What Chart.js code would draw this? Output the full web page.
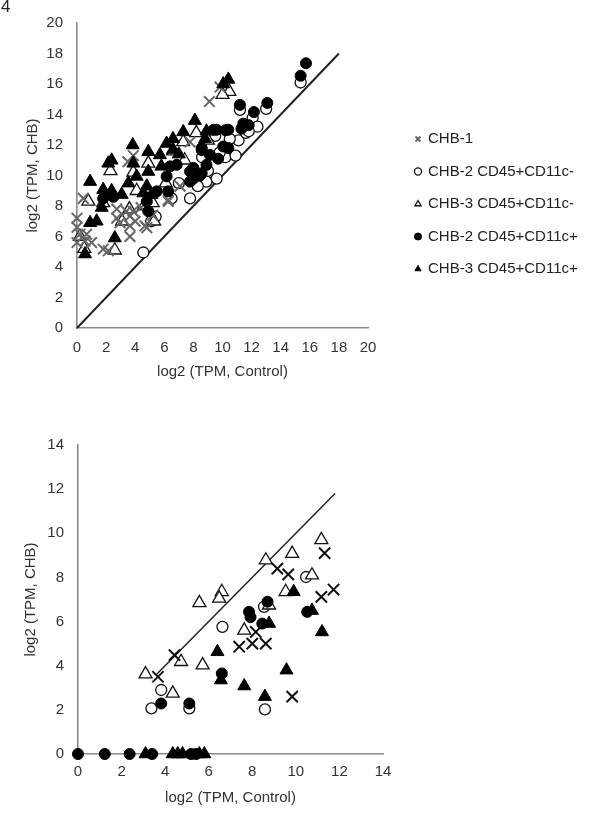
<!DOCTYPE html>
<html>
<head>
<meta charset="utf-8">
<script src="https://cdn.jsdelivr.net/npm/chart.js@4"></script>
<style>
body { margin: 0; background: #fff; font-family: "Liberation Sans", Arial, sans-serif; }
#wrap { position: relative; width: 600px; height: 827px; overflow: hidden; }
#topChart { position: absolute; left: 0; top: 0; }
#bottomChart { position: absolute; left: 0; top: 388px; }
#panel { position: absolute; left: 1px; top: -3px; font-size: 17px; color: #222; }
</style>
</head>
<body>
<div id="wrap">
  <canvas id="topChart" width="600" height="388"></canvas>
  <canvas id="bottomChart" width="600" height="439"></canvas>
  <div id="panel">4</div>
</div>
<script>
// series names (legend)
var seriesNames = ["CHB-1", "CHB-2 CD45+CD11c-", "CHB-3 CD45+CD11c-", "CHB-2 CD45+CD11c+", "CHB-3 CD45+CD11c+"];

// top panel: [log2 TPM control, log2 TPM CHB]
var topChb1 = [[0,7.2],[0,6.6],[0.2,6.15],[0.55,5.7],[0,5.6],[0.66,6.15],[1.0,5.6],[1.8,5.17],[2.15,5.06],
  [3.64,6.0],[2.96,6.9],[3.64,6.7],[4.0,7.0],[4.8,6.58],[2.73,7.8],[3.4,7.66],[3.64,7.34],[4.67,6.7],
  [2.73,7.2],[3.85,7.66],[6.27,8.3],[6.27,8.4],[7.08,9.3],[3.5,10.9],[3.87,11.3],[0.43,8.5],[7.77,12.2],
  [9.1,14.85],[9.83,15.8],[5.2,7.4],[4.4,7.9]];
var topChb2Neg = [[15.37,16.1],[13.0,14.37],[12.07,13.77],[11.2,14.3],[11.1,12.3],[10.2,11.2],[7.77,8.5],
  [8.9,9.6],[9.6,9.8],[4.56,4.95],[9.5,12.6],[10.5,12.4],[11.6,12.8],[12.4,13.2],[9.0,10.3],[8.3,9.3],
  [6.5,8.5],[5.4,7.3],[5.1,7.0],[10.9,11.3],[9.8,11.5],[7.0,9.5],[11.8,12.9],[8.6,11.2]];
var topChb3Neg = [[10.47,15.5],[10.0,15.3],[8.2,12.8],[7.3,12.2],[6.6,11.6],[4.9,10.8],[3.87,10.2],
  [2.3,10.3],[0.78,8.3],[1.8,8.2],[2.6,5.1],[4.6,8.0],[5.2,8.2],[3.1,7.0],[3.6,7.8],[5.3,7.0],[0.5,5.2],
  [0.2,6.0],[6.1,9.5],[7.4,11.0],[9.0,12.3],[4.1,9.0]];
var topChb2Pos = [[15.74,17.36],[15.37,16.54],[13.08,14.76],[12.16,14.16],[11.2,14.63],[9.6,13.0],[10.2,12.97],
  [10.4,13.0],[11.43,13.4],[11.3,13.07],[11.8,13.3],[10.05,11.9],[10.4,11.8],[9.7,11.1],[8.57,11.8],[8.0,10.5],
  [7.77,9.6],[8.45,10.0],[9.4,13.0],[6.4,10.6],[6.85,10.7],[6.16,9.94],[5.48,8.96],[6.27,8.96],[4.8,8.3],
  [4.9,7.66],[7.77,10.26],[8.0,9.8],[8.57,10.15],[8.9,10.7],[8.57,11.67],[9.14,11.35],[1.8,8.5],[2.5,8.6]];
var topChb3Pos = [[10.4,16.3],[10.05,16.0],[8.1,13.6],[8.8,12.4],[7.3,12.86],[6.6,12.4],[6.16,12.1],
  [4.9,11.56],[3.83,12.0],[2.38,11.0],[2.15,10.8],[0.9,9.6],[3.87,10.8],[4.9,10.26],[4.1,9.94],[3.53,9.5],
  [1.8,9.07],[2.38,9.0],[3.07,8.75],[4.8,9.3],[4.56,8.85],[5.13,8.75],[5.7,11.35],[5.8,10.6],[6.6,11.7],
  [1.7,7.9],[0.9,6.9],[1.35,7.0],[2.6,5.9],[0.55,4.85],[8.9,12.9],[7.0,11.4]];

// bottom panel
var botChb1 = [[11.32,9.1],[9.15,8.4],[9.65,8.14],[11.17,7.12],[11.73,7.45],[8.16,5.53],[7.4,4.86],
  [8.0,5.0],[8.62,5.0],[4.43,4.48],[3.67,3.5],[9.83,2.6]];
var botChb2Neg = [[10.47,8.02],[8.54,6.67],[6.63,5.76],[3.82,2.9],[3.37,2.07],[5.11,2.07],[8.58,2.02]];
var botChb3Neg = [[11.17,9.7],[9.83,9.08],[8.62,8.78],[10.74,8.1],[9.53,7.35],[5.57,6.85],[6.6,7.35],
  [6.48,7.05],[8.77,6.74],[7.63,5.6],[5.72,4.03],[4.73,4.18],[3.1,3.62],[4.35,2.75]];
var botChb2Pos = [[10.52,6.44],[7.85,6.44],[7.92,6.2],[8.7,6.9],[8.46,5.91],[3.82,2.29],[5.11,2.29],[6.6,3.65],
  [0,0],[1.23,0],[2.37,0],[3.4,0],[5.19,0],[5.42,0]];
var botChb3Pos = [[9.9,7.35],[10.74,6.5],[8.77,5.91],[6.4,4.63],[6.56,3.35],[7.63,3.08],[8.58,2.6],
  [9.57,3.8],[11.2,5.53],[3.1,0],[4.35,0],[4.58,0],[4.8,0],[5.57,0],[5.8,0]];

// identity lines
var topLine = [[0,0],[18,18]];
var botLine = [[3.6,3.6],[11.8,11.8]];

var topTicksMax = 20, botTicksMax = 14;

function pts(a) { return a.map(function(p){ return {x: p[0], y: p[1]}; }); }

function makeSets(lists, xColor, sz) {
  var styles = [
    {pointStyle: 'crossRot', bg: xColor, bc: xColor, bw: 2, r: sz.x, order: 2},
    {pointStyle: 'circle', bg: '#fff', bc: '#111', bw: 1.3, r: sz.c, order: 4},
    {pointStyle: 'triangle', bg: '#fff', bc: '#111', bw: 1.3, r: sz.t, order: 3},
    {pointStyle: 'circle', bg: '#000', bc: '#000', bw: 1, r: sz.c, order: 1},
    {pointStyle: 'triangle', bg: '#000', bc: '#000', bw: 1, r: sz.t, order: 0}
  ];
  var sets = [];
  for (var i = 0; i < 5; i++) {
    var s = styles[i];
    sets.push({
      label: seriesNames[i], data: pts(lists[i]), pointStyle: s.pointStyle,
      backgroundColor: s.bg, borderColor: s.bc, borderWidth: s.bw,
      pointRadius: s.r, pointHoverRadius: s.r, order: s.order, clip: false
    });
  }
  return sets;
}

function lineSet(a, w) {
  return {type: 'line', label: 'line', data: pts(a), borderColor: '#222', borderWidth: w,
    pointRadius: 0, fill: false, order: 9, clip: false};
}

var tickFont = {family: "'Liberation Sans', Arial, sans-serif", size: 15};
var axisBorder = {display: true, color: '#8a8a8a', width: 1.6};

function xAxis(max, h, tp, titlePad) {
  return {
    type: 'linear', min: 0, max: max,
    grid: {display: false, drawTicks: false}, border: axisBorder,
    ticks: {stepSize: 2, color: '#333', font: tickFont, padding: tp, maxRotation: 0},
    title: {display: true, text: 'log2 (TPM, Control)', color: '#333', font: tickFont, padding: {top: 0, bottom: titlePad}},
    afterFit: function(s) { s.height = h; }
  };
}
function yAxis(max, w, tp, titlePad) {
  return {
    type: 'linear', min: 0, max: max,
    grid: {display: false, drawTicks: false}, border: axisBorder,
    ticks: {stepSize: 2, color: '#333', font: tickFont, padding: tp},
    title: {display: true, text: 'log2 (TPM, CHB)', color: '#333', font: tickFont, padding: {top: titlePad, bottom: 0}},
    afterFit: function(s) { s.width = w; }
  };
}

// the legend box is limited to a quarter of the width by default, widen it
var legendWidth = {
  id: 'legendWidth',
  beforeLayout: function(chart) {
    var lg = chart.legend;
    if (lg && !lg._wide) {
      var fit = lg.fit;
      lg.fit = function() { fit.call(this); this.width = 190; };
      lg._wide = true;
    }
  }
};

var topSets = makeSets([topChb1, topChb2Neg, topChb3Neg, topChb2Pos, topChb3Pos], '#666', {x: 7.5, c: 5.5, t: 7.5});
topSets.push(lineSet(topLine, 2));

new Chart(document.getElementById('topChart'), {
  type: 'scatter',
  data: {datasets: topSets},
  plugins: [legendWidth],
  options: {
    responsive: false, animation: false,
    layout: {padding: {top: 20, right: 12, bottom: 0, left: 0}},
    plugins: {
      tooltip: {enabled: false},
      legend: {
        position: 'right', align: 'center',
        labels: {
          usePointStyle: true, boxWidth: 5, boxHeight: 5, padding: 17.5,
          color: '#222', font: tickFont,
          filter: function(item) { return item.text !== 'line'; },
          sort: function(a, b) { return a.datasetIndex - b.datasetIndex; }
        }
      }
    },
    scales: {
      x: xAxis(topTicksMax, 60, 11, 7),
      y: yAxis(topTicksMax, 77, 14, 24),
      gap: {
        type: 'linear', position: 'right', display: true,
        grid: {display: false, drawTicks: false}, border: {display: false},
        ticks: {display: false},
        afterFit: function(s) { s.width = 30; }
      }
    }
  }
});

var botSets = makeSets([botChb1, botChb2Neg, botChb3Neg, botChb2Pos, botChb3Pos], '#111', {x: 8, c: 5.5, t: 7.5});
botSets.push(lineSet(botLine, 1.5));

new Chart(document.getElementById('bottomChart'), {
  type: 'scatter',
  data: {datasets: botSets},
  options: {
    responsive: false, animation: false,
    layout: {padding: {top: 57, right: 217, bottom: 0, left: 0}},
    plugins: {legend: {display: false}, tooltip: {enabled: false}},
    scales: {
      x: xAxis(botTicksMax, 73, 9, 20),
      y: yAxis(botTicksMax, 78, 14, 22)
    }
  }
});
</script>
</body>
</html>
